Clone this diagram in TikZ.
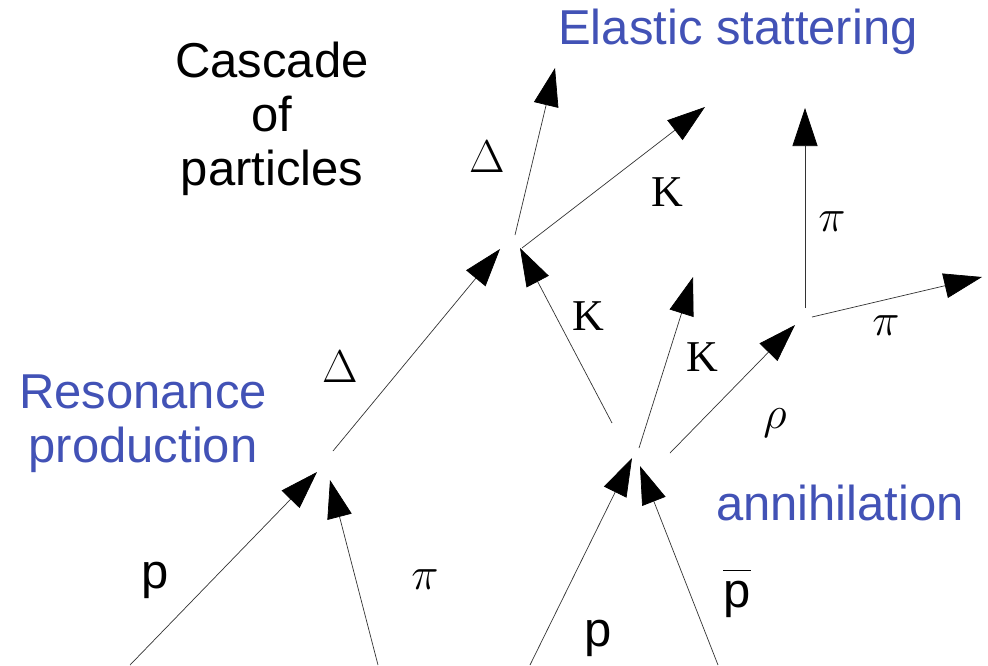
\RequirePackage{fix-cm}
\documentclass[tikz,border=0pt]{standalone}
\usepackage{fontspec}
\setmainfont{Liberation Sans}
\newfontfamily\grk{Liberation Serif}
\usetikzlibrary{arrows.meta}
\definecolor{lblue}{RGB}{66,82,182}
\tikzset{ptl/.style={draw=black!80, line width=0.7pt, -{Triangle[length=38pt,width=25pt,color=black]}},
  big/.style={font=\fontsize{49}{54}\selectfont, align=center},
  sym/.style={font=\grk\fontsize{44}{44}\selectfont},
  msym/.style={font=\fontsize{46}{46}\selectfont}}

\begin{document}
\begin{tikzpicture}[x=1pt,y=-1pt]
  \useasboundingbox (0,0) rectangle (988,665);
  % ends of the tracks (y runs downwards)
  \foreach \n/\pos in {pA/{130,665}, pB/{317,472}, piA/{378,665}, piB/{330,480},
      dA/{333,451}, dB/{500,249}, kA/{612,423}, kB/{520,248},
      dC/{515,235}, dD/{555,68}, kC/{522,248}, kD/{705,107},
      qA/{530,665}, qB/{632,458}, qbA/{718,665}, qbB/{640,466},
      kE/{639,448}, kF/{693,277}, rA/{670,453}, rB/{795,325},
      piC/{805,308}, piD/{805,108}, piE/{812,317}, piF/{982,277}}
    \coordinate (\n) at (\pos);
  \foreach \a/\b in {pA/pB, piA/piB, dA/dB, kA/kB, dC/dD, kC/kD,
      qA/qB, qbA/qbB, kE/kF, rA/rB, piC/piD, piE/piF}
    \draw[ptl] (\a) -- (\b);

  \node[big] (cascade) at (272,119) {Cascade\\of\\particles};
  \node[big, text=lblue] (elastic) at (738,32) {Elastic stattering};
  \node[big, text=lblue] (reso) at (143,424) {Resonance\\production};
  \node[big, text=lblue] (anni) at (840,503) {annihilation};

  \node[msym] (lD1) at (340,367) {$\Delta$};
  \node[msym] (lD2) at (487,157) {$\Delta$};
  \node[sym] (lK1) at (667,192) {K};
  \node[sym] (lK2) at (588,316) {K};
  \node[sym] (lK3) at (702,357) {K};
  \node[msym] (lpi1) at (832,222) {$\pi$};
  \node[msym] (lpi2) at (886,326) {$\pi$};
  \node[msym] (lpi3) at (425,580) {$\pi$};
  \node[msym] (lrho) at (775,423) {$\rho$};
  \node[big] (lp1) at (155,580) {p};
  \node[big] (lp2) at (598,638) {p};
  \node[big] (lpb) at (737,594) {$\overline{\rule{0pt}{36pt}\mbox{p}}$};
\end{tikzpicture}
\end{document}
